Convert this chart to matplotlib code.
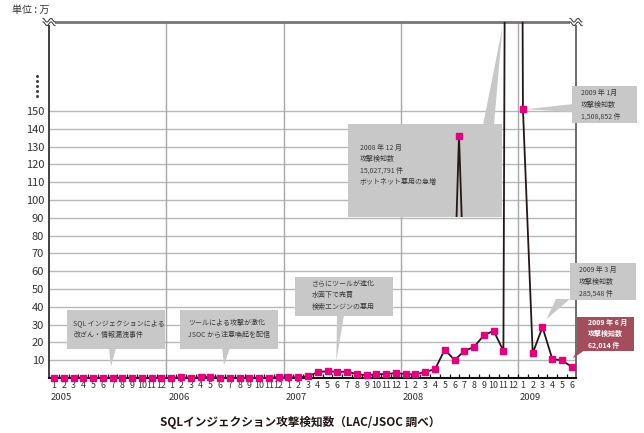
import matplotlib
matplotlib.use("Agg")
import matplotlib.pyplot as plt
import numpy as np
from matplotlib.patches import Rectangle, Polygon
from matplotlib.lines import Line2D
from matplotlib.transforms import Bbox, TransformedBbox, blended_transform_factory

plt.rcParams['font.family'] = ['Noto Sans CJK JP', 'DejaVu Sans']

# ---- data (unit: 10,000 detections) ----
years = ['2005', '2006', '2007', '2008', '2009']
months_per_year = [12, 12, 12, 12, 6]
v2005 = [0.1, 0.1, 0.1, 0.1, 0.1, 0.1, 0.1, 0.1, 0.1, 0.1, 0.1, 0.1]
v2006 = [0.1, 0.3, 0.1, 0.3, 0.5, 0.2, 0.1, 0.1, 0.1, 0.1, 0.2, 0.4]
v2007 = [0.3, 0.4, 1.0, 3.2, 3.9, 3.4, 3.6, 2.2, 1.5, 2.2, 2.2, 2.8]
v2008 = [2.2, 2.0, 3.5, 4.9, 16.0, 10.0, 15.2, 17.5, 24.0, 26.5, 15.3, 1502.8]
v2009 = [150.9, 13.9, 28.6, 10.7, 9.9, 6.2]
values = v2005 + v2006 + v2007 + v2008 + v2009
month_labels = [str(m) for n in months_per_year for m in range(1, n + 1)]
ytick_vals = [10, 20, 30, 40, 50, 60, 70, 80, 90, 100, 110, 120, 130, 140, 150]

title = 'SQLインジェクション攻撃検知数（LAC/JSOC 調べ）'
unit_label = '単位 : 万'
notes = [
    'SQL インジェクションによる\n改ざん・情報漏洩事件',
    'ツールによる攻撃が激化\nJSOC から注意喚起を配信',
    'さらにツールが進化\n水面下で売買\n検索エンジンの悪用',
    '2008 年 12 月\n攻撃検知数\n15,027,791 件\nボットネット悪用の急増',
    '2009 年 1月\n攻撃検知数\n1,508,852 件',
    '2009 年 3 月\n攻撃検知数\n285,548 件',
    '2009 年 6 月\n攻撃検知数\n62,014 件',
]

W, H = 644, 433
fig = plt.figure(figsize=(W / 100, H / 100), dpi=100)

def fx(px):
    return px / W

def fy(py):
    return 1 - py / H

L, R, T, B = 49, 576, 22, 378
ax = fig.add_axes([fx(L), fy(B), fx(R - L), (B - T) / H])
ax.set_zorder(0)

x = np.arange(len(values))
n = len(values)
ax.set_xlim(-0.51, n - 0.57)
ax.set_ylim(0, 200)

# grid
for v in ytick_vals:
    ax.axhline(v, color='#b8b8b8', lw=1.0, zorder=1)
starts = np.cumsum([0] + months_per_year)[:-1]
for s in starts[1:]:
    ax.axvline(s - 0.5, color='#a8a8a8', lw=1.0, zorder=1)

# data line
line, = ax.plot(x, values, color='#231815', lw=1.3, marker='s', ms=4.6,
                mfc='#e4007f', mec='#e4007f', zorder=3)
clipbox = TransformedBbox(Bbox([[-0.05, -0.05], [1.05, 1.0]]), ax.transAxes)
line.set_clip_box(clipbox)

# spines
ax.spines['top'].set_color('#777777')
ax.spines['top'].set_linewidth(2.0)
ax.spines['left'].set_color('#333333')
ax.spines['left'].set_linewidth(1.3)
ax.spines['right'].set_color('#555555')
ax.spines['right'].set_linewidth(1.2)
ax.spines['bottom'].set_color('#111111')
ax.spines['bottom'].set_linewidth(1.5)

ax.set_yticks(ytick_vals)
ax.set_yticklabels([str(v) for v in ytick_vals], fontsize=8, color='#333333')
ax.tick_params(axis='y', length=0, pad=3.5)
ax.set_xticks(x)
ax.set_xticklabels(month_labels, fontsize=6.4, color='#333333')
ax.tick_params(axis='x', which='major', length=0, pad=2.5)
ax.set_xticks(np.arange(n - 1) + 0.5, minor=True)
ax.tick_params(axis='x', which='minor', direction='in', length=3, width=0.9, color='#111111')

# year labels
tr = blended_transform_factory(ax.transData, fig.transFigure)
for yl, s in zip(years, starts):
    ax.text(s - 0.3, fy(398), yl, transform=tr, fontsize=6.8, color='#333333',
            ha='left', va='center')

fig.text(fx(300), fy(422), title, fontsize=8.4, fontweight='bold', color='#231815',
         ha='center', va='center')
fig.text(fx(12), fy(10), unit_label, fontsize=7.2, color='#333333', ha='left', va='center')

# vertical dots (axis break indicator)
dy = np.linspace(76, 96, 5)
fig.add_artist(Line2D([fx(37)] * 5, [fy(v) for v in dy], ls='none', marker='o',
                      ms=1.2, color='#444444', transform=fig.transFigure))

# break waves at top corners
for cx in (L, R):
    t = np.linspace(-6, 6, 40)
    fig.add_artist(Rectangle((fx(cx - 6), fy(25)), fx(12), 6 / H, transform=fig.transFigure,
                             fc='white', ec='none', zorder=4))
    for off in (-1.8, 1.8):
        fig.add_artist(Line2D([fx(cx + tt) for tt in t],
                              [fy(22 + off - 1.8 * np.sin(tt * np.pi / 4)) for tt in t],
                              color='#444444', lw=0.8, transform=fig.transFigure, zorder=5))

def to_px(i, v):
    X, Y = ax.transData.transform((i, v))
    return X, H - Y

def callout(box, text, tail_base, tip, fc='#c8c8c8', tc='#3a3a3a', bold=False, tx=None):
    x0, y0, x1, y1 = box
    fig.add_artist(Rectangle((fx(x0), fy(y1)), fx(x1 - x0), (y1 - y0) / H,
                             transform=fig.transFigure, fc=fc, ec='none', zorder=6))
    pts = [(fx(px), fy(py)) for px, py in tail_base] + [(fx(tip[0]), fy(tip[1]))]
    fig.add_artist(Polygon(pts, closed=True, transform=fig.transFigure, fc=fc, ec='none', zorder=6))
    fig.text(fx(tx[0]), fy(tx[1]), text, fontsize=5.0, color=tc, ha='left', va='center',
             linespacing=1.6, fontweight='bold' if bold else 'normal', zorder=7)

callout((67, 310, 165, 349), notes[0], [(109, 348), (116, 348)], to_px(5.83, 6.2), tx=(73, 329))
callout((180, 310, 278, 349), notes[1], [(222, 348), (230, 348)], to_px(17.4, 7.3), tx=(188, 329))
callout((295, 277, 393, 316), notes[2], [(337, 315), (344, 315)], to_px(28.9, 9.5), tx=(312, 295))
callout((348, 124, 502, 217), notes[3], [(483, 125), (494, 125)], to_px(45.9, 197), tx=(360, 165))
callout((572, 86, 637, 123), notes[4], [(573, 104), (573, 112)], to_px(48.35, 151), tx=(581, 105))
callout((570, 263, 636, 300), notes[5], [(556, 299), (570, 299)], to_px(50.4, 33), tx=(579, 282))
callout((577, 317, 634, 351), notes[6], [(578, 349), (585, 350)], to_px(53.1, 11), fc='#a44d5c',
        tc='white', bold=True, tx=(588, 334))

# inset: compressed view of the December 2008 spike
ins = fig.add_axes([fx(441), fy(217), fx(36), (217 - 130) / H])
ins.set_zorder(8)
ins.set_xlim(46, 48)
ins.set_ylim(1300, 1517)
ins.axis('off')
ins.patch.set_alpha(0)
sl = slice(46, 49)
ins.plot(x[sl], values[sl], color='#231815', lw=1.3)
ins.plot(x[47:48], values[47:48], ls='none', marker='s', ms=4.6, mfc='#e4007f',
         mec='#e4007f', clip_on=False)

fig.savefig('out.png', dpi=100)
